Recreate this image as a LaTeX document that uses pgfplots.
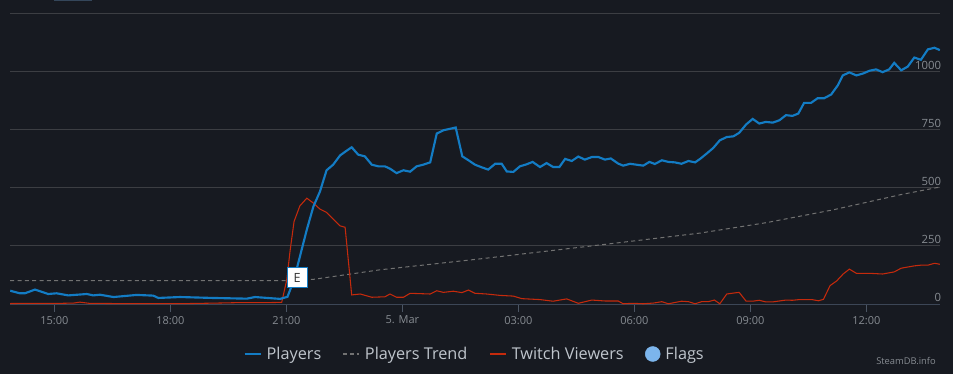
\documentclass[border=0pt]{standalone}
\usepackage{pgfplots}
\pgfplotsset{compat=1.18}
\usepackage{fontspec}
\setmainfont{Open Sans}
\definecolor{bgcol}{HTML}{171A21}
\definecolor{gridcol}{HTML}{3C3E43}
\definecolor{basecol}{HTML}{3C4656}
\definecolor{tickcol}{HTML}{4B5563}
\definecolor{labcol}{HTML}{868B91}
\definecolor{legcol}{HTML}{BFC5CC}
\definecolor{playersblue}{HTML}{137CC4}
\definecolor{twitchred}{HTML}{C52A0C}
\definecolor{trendgray}{HTML}{727272}
\definecolor{flagblue}{HTML}{7CB5EC}
\definecolor{topbox}{HTML}{34465A}

\pgfplotstableread{
h v
13.86 57
14.11 46
14.24 46
14.50 62
14.84 43
15.06 46
15.36 37
15.84 43
16.01 37
16.18 40
16.53 30
17.13 39
17.56 36
17.69 26
18.25 30
19.10 26
19.98 23
20.19 30
20.84 22
21.03 31
21.20 105
21.36 210
21.53 320
21.70 419
21.87 484
22.04 575
22.21 599
22.39 639
22.54 657
22.69 674
22.86 642
23.03 635
23.21 599
23.38 592
23.55 592
23.68 582
23.85 563
24.03 575
24.20 569
24.37 592
24.54 599
24.72 609
24.89 733
25.06 747
25.22 753
25.38 759
25.55 635
25.72 617
25.88 599
26.05 588
26.22 578
26.40 603
26.57 603
26.70 570
26.87 568
27.04 592
27.20 600
27.37 611
27.56 589
27.73 606
27.90 589
28.06 589
28.21 624
28.38 615
28.55 634
28.72 621
28.90 632
29.07 632
29.24 621
29.39 626
29.58 604
29.71 595
29.89 603
30.06 599
30.23 595
30.39 611
30.53 602
30.71 618
30.88 611
31.05 609
31.22 603
31.40 615
31.57 609
31.70 624
31.87 647
32.04 671
32.21 704
32.39 718
32.56 721
32.71 736
32.89 772
33.06 796
33.23 776
33.40 783
33.58 780
33.75 790
33.92 812
34.09 809
34.24 819
34.39 865
34.57 865
34.74 885
34.91 885
35.09 901
35.26 940
35.39 983
35.56 996
35.74 983
35.91 991
36.08 1003
36.25 1009
36.42 997
36.59 1009
36.72 1037
36.90 1005
37.07 1021
37.24 1060
37.41 1050
37.59 1095
37.76 1102
37.90 1092
}\players

\pgfplotstableread{
h v
13.86 2
14.50 3
15.20 3
15.50 4
15.66 8
15.90 3
16.50 2
17.50 2
18.50 2
19.20 4
19.80 6
20.50 6
20.88 7
21.01 103
21.10 233
21.20 355
21.35 422
21.53 455
21.70 434
21.87 408
22.04 394
22.21 366
22.39 336
22.52 330
22.69 39
22.91 43
23.21 29
23.55 31
23.68 43
23.85 29
24.03 29
24.20 46
24.72 43
24.89 57
25.06 50
25.32 55
25.54 49
25.71 60
25.88 46
26.18 43
26.53 37
26.87 34
27.09 23
27.56 19
27.90 12
28.25 22
28.55 3
28.90 17
29.24 13
29.58 13
29.71 1
29.97 3
30.23 1
30.49 4
30.71 10
30.88 1
31.22 12
31.40 10
31.57 1
31.74 10
31.91 10
32.07 17
32.21 1
32.39 43
32.56 47
32.71 50
32.89 12
33.06 12
33.23 16
33.40 9
33.58 9
33.75 13
33.92 17
34.09 16
34.27 19
34.59 19
34.76 14
34.89 20
35.06 79
35.23 99
35.40 129
35.56 150
35.74 132
36.08 132
36.42 129
36.72 138
36.90 154
37.24 164
37.41 167
37.59 167
37.76 175
37.90 171
}\twitch

\pgfplotstableread{
h v
13.86 100
21.03 100
21.70 106
23.42 147
26.01 194
29.37 259
31.70 305
33.42 350
35.14 405
36.88 470
37.90 503
}\trend

\begin{document}
\begin{tikzpicture}
\fill[bgcol] (0pt,0pt) rectangle (714.75pt,-280.5pt);
\fill[topbox] (40.5pt,0pt) rectangle (69pt,-1pt);
\begin{axis}[
  at={(7.5pt,-228pt)}, anchor=south west,
  width=697.5pt, height=218pt, scale only axis,
  xmin=13.854, xmax=37.904, ymin=0, ymax=1250,
  axis x line*=bottom, axis y line*=right,
  x axis line style={draw=basecol, line width=0.75pt},
  y axis line style={draw=none},
  xtick={15,18,21,24,27,30,33,36},
  xticklabels={15:00,18:00,21:00,5. Mar,03:00,06:00,09:00,12:00},
  ytick={0,250,500,750,1000,1250},
  yticklabels={0,250,500,750,1000,{}},
  tick align=outside,
  major tick length=6pt,
  xtick style={draw=tickcol, line width=0.75pt},
  ytick style={draw=none},
  ymajorgrids,
  grid style={draw=gridcol, line width=0.75pt},
  /pgf/number format/assume math mode=true,
  xticklabel style={font=\fontsize{8.25}{10}\selectfont, text=labcol, anchor=north, yshift=0.5pt},
  yticklabel style={font=\fontsize{8.5}{10}\selectfont, text=labcol, anchor=south east, inner sep=1.5pt, xshift=-3.5pt},
  legend columns=4,
  legend style={at={(0.5,-0.172)}, anchor=center, draw=none, fill=none,
    text=legcol, font=\fontsize{12.2}{14}\selectfont,
    /tikz/every even column/.append style={column sep=14pt},
    /tikz/every odd column/.append style={column sep=1.75pt}},
  legend image code/.code={\draw[#1] (0pt,0pt) -- (12pt,0pt);},
  legend cell align=left,
]
\addplot[trendgray, line width=0.75pt, dash pattern=on 3pt off 2.5pt, forget plot] table[x=h,y=v] {\trend};
\addplot[twitchred, line width=0.8pt, forget plot] table[x=h,y=v] {\twitch};
\addplot[only marks, mark=none, forget plot,
  nodes near coords={E}, nodes near coords align=center,
  every node near coord/.style={draw=playersblue, fill=white, line width=0.75pt,
    minimum width=15pt, minimum height=14.8pt, inner sep=0pt,
    text=black!80, font=\fontsize{9.5}{10}\selectfont}]
  coordinates {(21.28,114)};
\addplot[playersblue, line width=1.6pt, forget plot] table[x=h,y=v] {\players};
\addlegendimage{playersblue, line width=1.5pt}
\addlegendentry{Players}
\addlegendimage{trendgray, line width=1pt, dash pattern=on 3pt off 2pt}
\addlegendentry{Players Trend}
\addlegendimage{twitchred, line width=1.5pt}
\addlegendentry{Twitch Viewers}
\addlegendimage{legend image code/.code={\fill[flagblue] (5.6pt,0pt) circle (5.6pt);}}
\addlegendentry{Flags}
\end{axis}
\node[font=\fontsize{7}{8}\selectfont, text=labcol] at (679.5pt,-270.5pt) {SteamDB.info};
\pgfresetboundingbox
\path[use as bounding box] (0pt,0pt) rectangle (714.75pt,-280.5pt);
\end{tikzpicture}
\end{document}
